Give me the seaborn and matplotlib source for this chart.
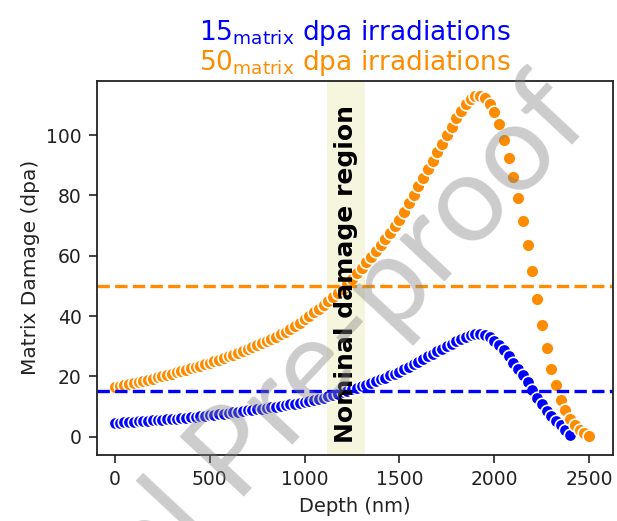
import numpy as np
import pandas as pd
import seaborn as sns
import matplotlib.pyplot as plt

# depth grid (nm) and damage profiles (dpa)
depth = [0, 25, 50, 75, 100, 125, 150, 175, 200, 225, 250, 275, 300, 325, 350, 375, 400, 425, 450, 475,
         500, 525, 550, 575, 600, 625, 650, 675, 700, 725, 750, 775, 800, 825, 850, 875, 900, 925, 950, 975,
         1000, 1025, 1050, 1075, 1100, 1125, 1150, 1175, 1200, 1225, 1250, 1275, 1300, 1325, 1350, 1375,
         1400, 1425, 1450, 1475, 1500, 1525, 1550, 1575, 1600, 1625, 1650, 1675, 1700, 1725, 1750, 1775,
         1800, 1825, 1850, 1875, 1900, 1925, 1950, 1975, 2000, 2025, 2050, 2075, 2100, 2125, 2150, 2175,
         2200, 2225, 2250, 2275, 2300, 2325, 2350, 2375, 2400, 2425, 2450, 2475, 2500]

dpa_15 = [4.6, 4.7, 4.8, 4.9, 5.0, 5.1, 5.2, 5.3, 5.4, 5.5, 5.7, 5.8, 5.9, 6.0, 6.2, 6.3, 6.5, 6.6, 6.8, 7.0,
          7.1, 7.3, 7.5, 7.7, 7.9, 8.1, 8.3, 8.5, 8.7, 8.9, 9.1, 9.3, 9.5, 9.7, 9.9, 10.2, 10.4, 10.7, 11.0, 11.3,
          11.6, 11.9, 12.3, 12.6, 13.0, 13.4, 13.8, 14.2, 14.7, 15.2, 15.7, 16.2, 16.8, 17.3, 17.9, 18.5,
          19.0, 19.6, 20.3, 20.9, 21.6, 22.4, 23.2, 24.1, 24.9, 25.8, 26.6, 27.5, 28.3, 29.2, 30.0, 30.8,
          31.7, 32.4, 33.1, 33.6, 33.9, 33.9, 33.6, 32.9, 31.8, 30.3, 28.6, 26.6, 24.6, 22.5, 20.4, 18.0,
          15.6, 13.0, 10.7, 8.6, 6.8, 5.2, 3.8, 2.3, 0.5]

dpa_50 = [16.5, 16.8, 17.1, 17.5, 17.8, 18.2, 18.5, 18.9, 19.3, 19.7, 20.1, 20.5, 20.9, 21.3, 21.8, 22.2, 22.7, 23.1, 23.6, 24.1,
          24.6, 25.1, 25.6, 26.1, 26.7, 27.2, 27.8, 28.4, 29.0, 29.6, 30.3, 31.0, 31.7, 32.4, 33.2, 34.0, 34.8, 35.6, 36.7, 37.8,
          39.0, 40.1, 41.2, 42.4, 43.6, 44.9, 46.2, 47.6, 49.0, 50.6, 52.4, 54.2, 56.0, 57.8, 59.6, 61.5,
          63.4, 65.4, 67.5, 69.7, 72.0, 74.6, 77.4, 80.2, 83.0, 85.9, 88.7, 91.5, 94.3, 97.2, 100.0, 102.8,
          105.5, 108.0, 110.2, 111.9, 112.9, 113.0, 112.2, 110.4, 107.5, 103.5, 98.5, 92.5, 86.0, 79.0, 71.5, 63.5,
          55.0, 45.5, 37.0, 29.5, 22.5, 17.0, 12.3, 8.7, 6.0, 3.8, 2.2, 1.1, 0.4]

nominal = [15, 50]
region = [1120, 1320]

df15 = pd.DataFrame({"Depth": depth[:len(dpa_15)], "Damage": dpa_15})
df50 = pd.DataFrame({"Depth": depth, "Damage": dpa_50})

sns.set_style("ticks")
plt.rcParams["font.family"] = ["DejaVu Sans"]
plt.rcParams["mathtext.default"] = "regular"

fig = plt.figure(figsize=(6.17, 5.21), dpi=100)
ax = fig.add_axes([0.157, 0.127, 0.837, 0.718])

ax.axvspan(region[0], region[1], color="beige", alpha=0.9, lw=0, zorder=0)

sns.scatterplot(data=df15, x="Depth", y="Damage", color="blue", s=80,
                edgecolor="white", linewidth=1.2, ax=ax, zorder=1)
sns.scatterplot(data=df50, x="Depth", y="Damage", color="darkorange", s=85,
                edgecolor="white", linewidth=1.2, ax=ax, zorder=1)

ax.axhline(nominal[0], color="blue", ls="--", lw=2.4)
ax.axhline(nominal[1], color="darkorange", ls="--", lw=2.4)

ax.text(sum(region) / 2, 54, "Nominal damage region", rotation=90, ha="center", va="center",
        fontsize=18, fontweight="bold", color="black")

ax.set_xlim(-95, 2627)
ax.set_ylim(-6, 118)
ax.set_xticks([0, 500, 1000, 1500, 2000, 2500])
ax.set_yticks([0, 20, 40, 60, 80, 100])
ax.tick_params(labelsize=13.5, length=6, width=1.2, pad=5, colors="#222222")
for sp in ax.spines.values():
    sp.set_color("#222222")
    sp.set_linewidth(1.3)
ax.set_xlabel("Depth (nm)", fontsize=14, color="#222222", labelpad=6)
ax.set_ylabel("Matrix Damage (dpa)", fontsize=14.5, color="#222222", labelpad=4)

fig.text(0.575, 0.937, r"15$_{matrix}$ dpa irradiations", color="blue", fontsize=19,
         ha="center", va="center")
fig.text(0.575, 0.879, r"50$_{matrix}$ dpa irradiations", color="darkorange", fontsize=19,
         ha="center", va="center")

# watermark
fig.text(0.962, 0.765, "Journal Pre-proof", fontsize=88, family=["Lato", "DejaVu Sans"], color="gray",
         alpha=0.4, rotation=47, rotation_mode="anchor", ha="right", va="baseline", zorder=10)

fig.savefig("out.png", dpi=100)
